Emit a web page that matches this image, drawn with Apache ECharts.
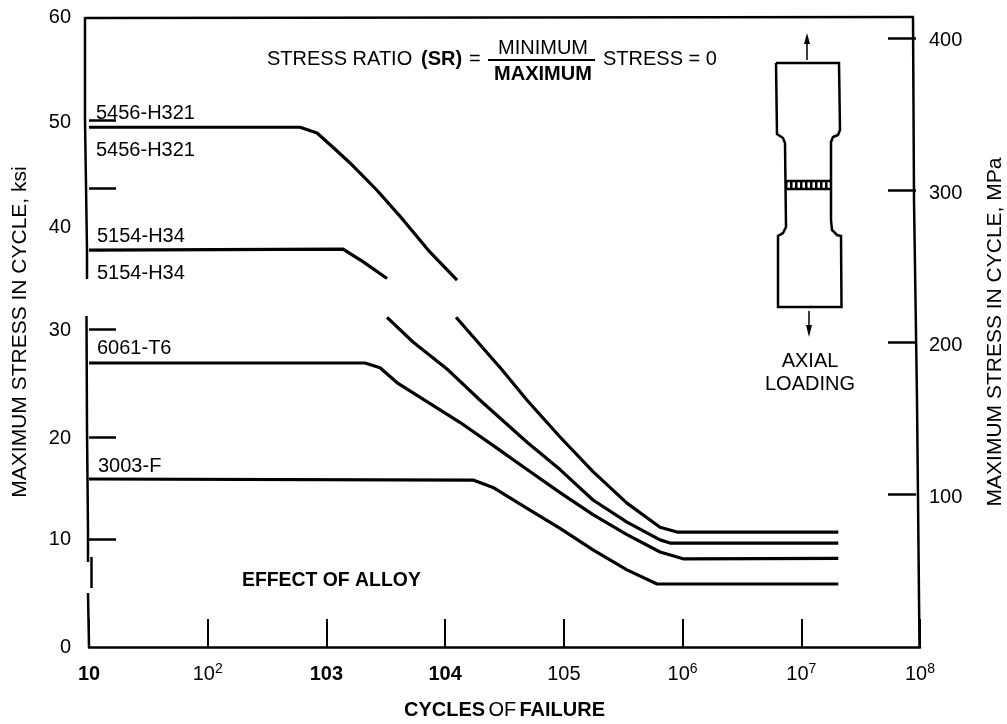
<!DOCTYPE html>
<html>
<head>
<meta charset="utf-8">
<style>html,body{margin:0;padding:0;background:#fff}#c{width:1007px;height:724px}</style>
<script src="https://cdn.jsdelivr.net/npm/echarts@6/dist/echarts.min.js"></script>
</head>
<body>
<div id="c"></div>
<script>
var alloy5456Cycles = [10,600,834,1135,1580,2665,4415,7460,12600,12600,12360,30100,49000,92900,176000,340000,646000,897000,20500000];
var alloy5456Stress = [49.5,49.5,48.95,47.6,46.1,43.5,40.7,37.6,34.95,null,31.4,26.4,23.5,20.0,16.7,13.7,11.4,10.95,10.95];
var alloy5154Cycles = [10,1380,2030,3240,3240,3240,5360,10560,19700,49000,92900,176000,340000,646000,784000,20500000];
var alloy5154Stress = [37.8,37.9,36.7,35.1,null,31.4,29.05,26.4,23.5,19.5,16.9,14,11.9,10.2,9.9,9.9];
var alloy6061Cycles = [10,2110,2830,4010,13300,25300,49000,92900,176000,340000,646000,1010000,20500000];
var alloy6061Stress = [27.05,27.05,26.6,25.1,21.4,19.2,16.9,14.7,12.6,10.7,9.05,8.4,8.45];
var alloy3003Cycles = [10,17200,25300,49000,92900,176000,340000,610000,20500000];
var alloy3003Stress = [16,15.9,15.2,13.2,11.3,9.25,7.35,6,6];

var xTickLabels = {1:'{b|10}',2:'{n|10}{s|2}',3:'{b|103}',4:'{b|104}',5:'{n|105}',6:'{n|10}{s|6}',7:'{n|10}{s|7}',8:'{n|10}{s|8}'};
var ksiTickValues = [10.3,20,30.3,43.7,50.2];
var ksiLabelValues = [0,10.2,19.9,30.1,40,50,60];
var mpaTicks = [100,200,300,400];
var mpaLabelValues = [98,198,298,398];

var FONT = '"Liberation Sans", Arial, sans-serif';
function pairs(xs, ys){ return xs.map(function(x,i){ return [x, ys[i]]; }); }
function line(name, xs, ys){
  return {name:name,type:'line',data:pairs(xs,ys),symbol:'none',smooth:false,connectNulls:false,
    lineStyle:{color:'#000',width:3.2,cap:'butt',join:'round'},itemStyle:{color:'#000'},silent:true};
}
function poly(points, w, fill){
  return {type:'polyline',silent:true,shape:{points:points},style:{stroke:'#000',lineWidth:w,fill:fill||null}};
}
function txt(s,x,y,size,weight,align){
  return {type:'text',silent:true,x:x,y:y,style:{text:s,fontSize:size,fontWeight:weight||'normal',fontFamily:FONT,fill:'#000',align:align||'left',verticalAlign:'middle'}};
}
var graphics = [
  poly([[85,18],[914,17]],2.5),
  poly([[85,17],[85,120],[87,250],[87,279]],2.5),
  poly([[86.5,316],[87,430],[88,530],[88,562]],2.5),
  poly([[91.5,557],[91.5,588]],2.5),
  poly([[88,593],[89,647]],2.5),
  poly([[913,17],[914,200],[917,400],[919.5,647]],2.5),
  poly([[776,63],[839,63],[840,130],[838,135],[833,137],[831,142],[831,220],[832,230],[837,235],[841,236],[841.5,307],[778,307],[778,236],[783,233],[786,227],[785,143],[783,138],[777,134],[776,63]],2.5),
  poly([[785,181],[831,181]],2.5),
  poly([[785,189],[831,189]],2.5),
  {type:'line',silent:true,shape:{x1:785,y1:185,x2:831,y2:185},style:{stroke:'#000',lineWidth:6,lineDash:[2.5,2.5]}},
  poly([[807,60],[807,40]],1.5),
  {type:'polygon',silent:true,shape:{points:[[807,33],[804,44],[810,44]]},style:{fill:'#000'}},
  poly([[809,311],[809,330]],1.5),
  {type:'polygon',silent:true,shape:{points:[[809,337],[806,325],[812,325]]},style:{fill:'#000'}},
  txt('AXIAL',810,361,20,'normal','center'),
  txt('LOADING',810,384,20,'normal','center'),
  txt('STRESS RATIO',267,59,20),
  txt('(SR)',421,59,20,'bold'),
  txt('=',469,59,20),
  txt('MINIMUM',543,48,20,'normal','center'),
  poly([[488,60],[595,60]],2),
  txt('MAXIMUM',543,74,20,'bold','center'),
  txt('STRESS = 0',603,59,20),
  txt('5456-H321',96,113,20),
  txt('5456-H321',96,150,20),
  txt('5154-H34',97,236,20),
  txt('5154-H34',97,273,20),
  txt('6061-T6',97,348,20),
  txt('3003-F',98,466,20),
  txt('EFFECT OF ALLOY',242,581,19.4,'bold')
];
var chart = echarts.init(document.getElementById('c'), null, {renderer:'canvas'});
chart.setOption({
  animation:false,
  backgroundColor:'#fff',
  grid:{left:89,right:87,top:17,bottom:77,containLabel:false,outerBoundsMode:'none'},
  xAxis:{type:'log',logBase:10,min:10,max:100000000,
    name:'{b|CYCLES} {n|OF} {b|FAILURE}',nameLocation:'middle',nameGap:53,
    nameTextStyle:{rich:{b:{fontSize:20,fontWeight:'bold',fontFamily:FONT,color:'#000'},n:{fontSize:20,fontFamily:FONT,color:'#000'}}},
    splitLine:{show:false},minorTick:{show:false},
    axisLine:{show:true,lineStyle:{color:'#000',width:2.5}},
    axisTick:{show:true,inside:true,length:28,lineStyle:{color:'#000',width:2}},
    axisLabel:{show:true,margin:15,hideOverlap:false,showMinLabel:true,showMaxLabel:true,
      formatter:function(v){return xTickLabels[Math.round(Math.log(v)/Math.LN10)];},
      rich:{b:{fontSize:20,fontWeight:'bold',fontFamily:FONT,color:'#000',lineHeight:24},
            n:{fontSize:20,fontFamily:FONT,color:'#000',lineHeight:24},
            s:{fontSize:14,fontFamily:FONT,color:'#000',verticalAlign:'top',lineHeight:16}}}
  },
  yAxis:[
    {type:'value',min:0,max:60,position:'left',
     name:'MAXIMUM STRESS IN CYCLE, ksi',nameLocation:'middle',nameGap:58,
     nameTextStyle:{fontSize:21,fontFamily:FONT,color:'#000'},
     splitLine:{show:false},
     axisLine:{show:false},
     axisTick:{show:true,inside:true,length:27,customValues:ksiTickValues,lineStyle:{color:'#000',width:2.5}},
     axisLabel:{show:true,margin:18,fontSize:20,fontFamily:FONT,color:'#000',customValues:ksiLabelValues,
       formatter:function(v){return String(Math.round(v/10)*10);}}
    },
    {type:'value',min:0,max:413.7,position:'right',offset:-4,
     name:'MAXIMUM STRESS IN CYCLE, MPa',nameLocation:'middle',nameGap:69,nameRotate:90,
     nameTextStyle:{fontSize:21,fontFamily:FONT,color:'#000'},
     splitLine:{show:false},
     axisLine:{show:false},
     axisTick:{show:true,inside:true,length:28,customValues:mpaTicks,lineStyle:{color:'#000',width:2.5}},
     axisLabel:{show:true,margin:13,fontSize:20,fontFamily:FONT,color:'#000',customValues:mpaLabelValues,
       formatter:function(v){return String(Math.round(v/100)*100);}}
    }
  ],
  series:[
    line('5456-H321',alloy5456Cycles,alloy5456Stress),
    line('5154-H34',alloy5154Cycles,alloy5154Stress),
    line('6061-T6',alloy6061Cycles,alloy6061Stress),
    line('3003-F',alloy3003Cycles,alloy3003Stress)
  ],
  graphic:{elements:graphics}
});
</script>
</body>
</html>
